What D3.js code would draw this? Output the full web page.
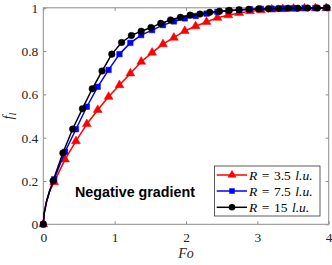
<!DOCTYPE html>
<html><head><meta charset="utf-8">
<script src="https://cdn.jsdelivr.net/npm/d3@7"></script>
<style>
body{margin:0;background:#fff;}
svg{display:block;}
text{font-family:"Liberation Serif","Times New Roman",serif;}
</style></head>
<body>
<svg id="c" width="332" height="265"></svg>
<script>
// ---- data ----
const xTicks = [0, 1, 2, 3, 4];
const yTicks = [0, 0.2, 0.4, 0.6, 0.8, 1];
const yTickLabels = ["0", "0.2", "0.4", "0.6", "0.8", "1"];

// sample spacing (Fo) per series
const dFoSmallR = 0.1525;   // R = 3.5 and R = 7.5
const dFoLargeR = 0.1372;   // R = 15

// early (unmarked) line points near the origin
const earlyFo = [0, 0.012, 0.045, 0.09];
const earlyF  = [0, 0.05, 0.105, 0.155];

const fR35 = [0, 0.195, 0.30, 0.384, 0.463, 0.528, 0.589, 0.643, 0.697, 0.751, 0.793, 0.832, 0.862, 0.893, 0.915, 0.935, 0.954, 0.966, 0.976, 0.984, 0.989, 0.992, 0.994, 0.996, 0.997, 0.998, 0.999];
const fR75 = [0, 0.208, 0.335, 0.439, 0.543, 0.635, 0.713, 0.786, 0.838, 0.874, 0.897, 0.92, 0.937, 0.951, 0.962, 0.973, 0.981, 0.986, 0.99, 0.993, 0.995, 0.996, 0.997, 0.998, 0.999, 0.999, 1.0];
const fR15 = [0, 0.201, 0.329, 0.44, 0.534, 0.626, 0.708, 0.786, 0.840, 0.872, 0.892, 0.909, 0.928, 0.944, 0.956, 0.966, 0.971, 0.979, 0.984, 0.988, 0.991, 0.993, 0.995, 0.996, 0.997, 0.998, 0.998, 0.999, 0.999, 1.0];

const seriesNames = ["3.5", "7.5", "15"];
const seriesColors = ["#ff0000", "#0000ff", "#000000"];
const seriesMarkers = ["triangle", "square", "circle"];
const seriesData = [fR35, fR75, fR15];
const seriesStep = [dFoSmallR, dFoSmallR, dFoLargeR];

// ---- layout ----
const svg = d3.select("#c");
const L = 43.3, R = 328.7, T = 7.8, B = 224.3;
const x = d3.scaleLinear().domain([0, 4]).range([L, R]);
const y = d3.scaleLinear().domain([0, 1]).range([B, T]);
const axisCol = "#8c8c8c", textCol = "#262626";
const serif = "'Liberation Serif','Times New Roman',serif";

// box
svg.append("rect").attr("x", L).attr("y", T).attr("width", R - L).attr("height", B - T)
  .attr("fill", "none").attr("stroke", axisCol).attr("stroke-width", 1);

// axes with inward ticks
const tl = 3;
const gx = svg.append("g").attr("transform", `translate(0,${B})`)
  .call(d3.axisBottom(x).tickValues(xTicks).tickSize(-tl).tickPadding(6).tickFormat(d3.format("d")));
const gxt = svg.append("g").attr("transform", `translate(0,${T})`)
  .call(d3.axisTop(x).tickValues(xTicks).tickSize(-tl).tickFormat(""));
const gy = svg.append("g").attr("transform", `translate(${L},0)`)
  .call(d3.axisLeft(y).tickValues(yTicks).tickSize(-tl).tickPadding(5).tickFormat((d, i) => yTickLabels[i]));
const gyr = svg.append("g").attr("transform", `translate(${R},0)`)
  .call(d3.axisRight(y).tickValues(yTicks).tickSize(-tl).tickFormat(""));
[gx, gxt, gy, gyr].forEach(g => {
  g.attr("font-family", serif).attr("font-size", 13.5);
  g.select(".domain").remove();
  g.selectAll(".tick line").attr("stroke", axisCol);
  g.selectAll("text").attr("fill", textCol).style("font-size", "13.5px").style("font-family", serif);
});
gx.selectAll("text").attr("dy", "0.9em");

// axis labels
svg.append("text").attr("x", x(2)).attr("y", 258).attr("text-anchor", "middle")
  .attr("fill", textCol).style("font-size", "14px").style("font-style", "italic").text("Fo");
const yl = svg.append("text").attr("transform", `translate(13,${(T + B) / 2}) rotate(-90)`)
  .attr("text-anchor", "middle").attr("fill", textCol).style("font-size", "14px").style("font-style", "italic");
yl.append("tspan").text("f");
yl.append("tspan").attr("dy", 3).style("font-size", "10px").text("l");

// series
const line = d3.line().x(d => x(d[0])).y(d => y(d[1]));
const sym = {
  triangle: d3.symbol().type(d3.symbolTriangle).size(34),
  square: d3.symbol().type(d3.symbolSquare).size(30),
  circle: d3.symbol().type(d3.symbolCircle).size(34)
};
seriesData.forEach((vals, si) => {
  const pts = vals.map((v, k) => [k * seriesStep[si], v]);
  const linePts = earlyFo.map((f, i) => [f, earlyF[i]]).concat(pts.slice(1));
  const g = svg.append("g");
  g.append("path").attr("d", line(linePts)).attr("fill", "none")
    .attr("stroke", seriesColors[si]).attr("stroke-width", 1.5).attr("stroke-linejoin", "round");
  g.selectAll("path.m").data(pts).enter().append("path").attr("class", "m")
    .attr("transform", d => `translate(${x(d[0])},${y(d[1])})`)
    .attr("d", sym[seriesMarkers[si]]()).attr("fill", seriesColors[si]).attr("stroke", seriesColors[si]).attr("stroke-width", 0.5);
});

// annotation
svg.append("text").attr("x", 75).attr("y", 197).attr("fill", "#000")
  .style("font-family", "'Liberation Sans',Arial,sans-serif").style("font-weight", "bold")
  .style("font-size", "14.3px").text("Negative gradient");

// legend
const lg = svg.append("g");
lg.append("rect").attr("x", 214.5).attr("y", 166).attr("width", 105.5).attr("height", 50)
  .attr("fill", "#fff").attr("stroke", "#333").attr("stroke-width", 0.8);
const rowY = [175, 191, 207.3];
seriesNames.forEach((n, i) => {
  lg.append("line").attr("x1", 216.7).attr("x2", 247).attr("y1", rowY[i]).attr("y2", rowY[i])
    .attr("stroke", seriesColors[i]).attr("stroke-width", 1.5);
  lg.append("path").attr("transform", `translate(232,${rowY[i]})`)
    .attr("d", sym[seriesMarkers[i]]()).attr("fill", seriesColors[i]);
  const t = lg.append("text").attr("x", 249).attr("y", rowY[i] + 4.5).attr("fill", "#000")
    .style("font-size", "13.5px");
  t.append("tspan").style("font-style", "italic").text("R");
  t.append("tspan").attr("dx", 4.5).text("=");
  t.append("tspan").attr("dx", 4.5).text(n);
  t.append("tspan").attr("dx", 4.5).style("font-style", "italic").text("l.u.");
});
</script>
</body></html>
